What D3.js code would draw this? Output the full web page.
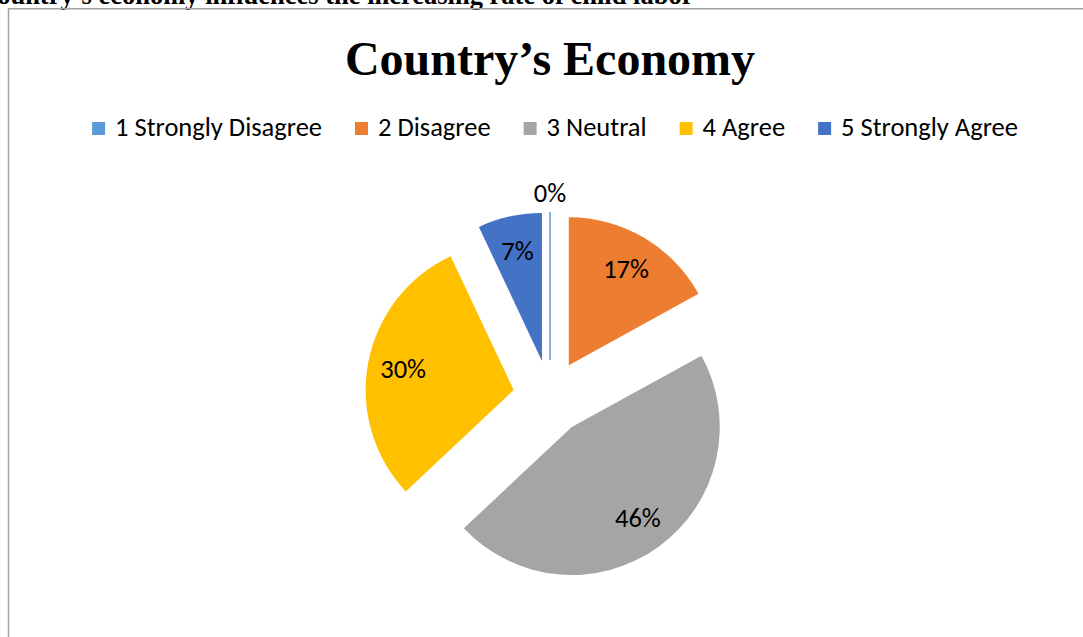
<!DOCTYPE html>
<html>
<head>
<meta charset="utf-8">
<script src="https://cdn.jsdelivr.net/npm/d3@7"></script>
<style>
  html, body { margin: 0; padding: 0; background: #fff; overflow: hidden; }
  svg { display: block; }
</style>
</head>
<body>
<svg id="chart" width="1083" height="637"></svg>
<script>
// Survey responses: "Country's economy influences the increasing rate of child labor"
const categories = ["1 Strongly Disagree", "2 Disagree", "3 Neutral", "4 Agree", "5 Strongly Agree"];
const shares = [0, 17, 46, 30, 7];            // percent of respondents
const sliceColors = ["#5B9BD5", "#ED7D31", "#A5A5A5", "#FFC000", "#4472C4"];
const heading = "Country\u2019s economy influences the increasing rate of child labor";
const chartTitle = "Country\u2019s Economy";

const svg = d3.select("#chart");
const W = 1083, H = 637;
const sansFamily = "Carlito, Calibri, Lato, 'Noto Sans', sans-serif";
const serifFamily = "'Liberation Serif', 'Times New Roman', 'DejaVu Serif', serif";

// Text size tuned so the first legend entry spans about 206px
const probe = svg.append("text")
  .attr("font-family", sansFamily).attr("font-size", 100)
  .text(categories[0]);
const probeW = probe.node().getComputedTextLength();
probe.remove();
const fontSize = 100 * 207 / probeW;

// Document heading running off the top of the page
svg.append("text")
  .attr("x", -22).attr("y", 4)
  .attr("font-family", serifFamily)
  .attr("font-weight", "bold")
  .attr("font-size", 26.5)
  .attr("fill", "#000")
  .text(heading);

// Chart frame
svg.append("rect")
  .attr("x", 8.5).attr("y", 8.75)
  .attr("width", W + 20).attr("height", H + 20)
  .attr("fill", "none")
  .attr("stroke", "#a3a3a3")
  .attr("stroke-width", 1.5);

const cx = 550;

// Chart title
svg.append("text")
  .attr("x", cx).attr("y", 75)
  .attr("text-anchor", "middle")
  .attr("font-family", serifFamily)
  .attr("font-weight", "bold")
  .attr("font-size", 48)
  .attr("fill", "#000")
  .text(chartTitle);

// Legend
const color = d3.scaleOrdinal().domain(categories).range(sliceColors);
const sw = 13, swGap = 10, itemGap = 33;
const legend = svg.append("g");
const items = legend.selectAll("g.item").data(categories).join("g").attr("class", "item");
items.append("rect")
  .attr("width", sw).attr("height", sw)
  .attr("y", 122)
  .attr("fill", d => color(d));
items.append("text")
  .attr("x", sw + swGap)
  .attr("y", 136)
  .attr("font-family", sansFamily)
  .attr("font-size", fontSize)
  .attr("fill", "#000")
  .text(d => d);
let widths = [];
items.each(function () {
  widths.push(sw + swGap + d3.select(this).select("text").node().getComputedTextLength());
});
const totalW = d3.sum(widths) + itemGap * (widths.length - 1);
let xPos = 555 - totalW / 2;
items.attr("transform", (d, i) => {
  const t = `translate(${xPos},0)`;
  xPos += widths[i] + itemGap;
  return t;
});

// Exploded pie
const cy = 397, radius = 148, explode = 37;
const pie = d3.pie().sort(null).value(d => d.value).startAngle(0).endAngle(2 * Math.PI);
const arcs = pie(categories.map((c, i) => ({ cat: c, value: shares[i] })));
const arc = d3.arc().innerRadius(0).outerRadius(radius);

const pieG = svg.append("g").attr("transform", `translate(${cx},${cy})`);
const slice = pieG.selectAll("g.slice").data(arcs).join("g")
  .attr("class", "slice")
  .attr("transform", d => {
    const a = (d.startAngle + d.endAngle) / 2;
    return `translate(${explode * Math.sin(a)},${-explode * Math.cos(a)})`;
  });

slice.append("path")
  .attr("d", arc)
  .attr("fill", d => color(d.data.cat))
  .attr("stroke", d => d.data.value === 0 ? color(d.data.cat) : "none")
  .attr("stroke-width", 1.5);

// Percentage labels: inside the slice, or just beyond it when the slice is empty
slice.append("text")
  .attr("transform", d => {
    const a = (d.startAngle + d.endAngle) / 2;
    const lr = d.data.value === 0 ? radius * 1.13 : radius * 0.76;
    return `translate(${lr * Math.sin(a)},${-lr * Math.cos(a)})`;
  })
  .attr("text-anchor", "middle")
  .attr("dy", "0.35em")
  .attr("font-family", sansFamily)
  .attr("font-size", fontSize)
  .attr("fill", "#000")
  .text(d => `${Math.round(d.data.value)}%`);
</script>
</body>
</html>
